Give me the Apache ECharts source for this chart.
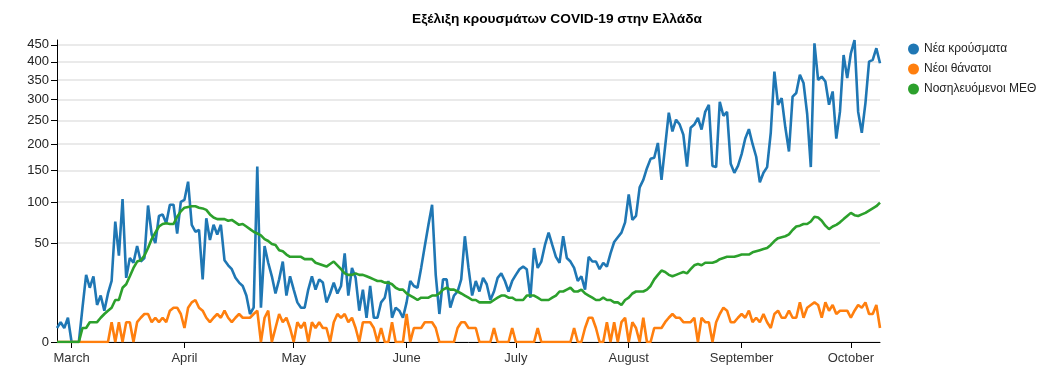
<!DOCTYPE html>
<html><head><meta charset="utf-8">
<script src="https://cdn.jsdelivr.net/npm/echarts@6/dist/echarts.min.js"></script>
<style>html,body{margin:0;padding:0;background:#fff}#c{width:1058px;height:383px}</style>
</head><body><div id="c"></div>
<script>
const startDate = '2020-02-26';
const dayCount = 227;
const monthNames = ['January','February','March','April','May','June','July','August','September','October','November','December'];
const yTicks = [0,50,100,150,200,250,300,350,400,450];
const seriesNames = ['Νέα κρούσματα','Νέοι θάνατοι','Νοσηλευόμενοι ΜΕΘ'];
const titleText = 'Εξέλιξη κρουσμάτων COVID-19 στην Ελλάδα';

const newCases = [
1,2,1,3,0,0,0,6,23,15,
22,7,11,5,12,19,74,38,104,21,
36,32,47,33,36,95,59,50,81,83,
72,96,96,60,100,103,131,70,62,64,
20,78,53,70,59,70,34,30,27,21,
18,16,11,4,6,157,6,47,32,22,
12,20,33,11,22,14,8,6,6,14,
22,14,20,18,8,12,18,12,16,40,
11,28,21,5,14,3,16,3,3,8,
10,19,3,6,5,3,8,19,16,15,
28,47,70,96,23,4,20,20,6,11,
13,20,57,28,11,19,13,21,17,9,
13,21,24,19,13,19,23,27,29,27,
10,45,28,33,48,61,48,37,32,57,
36,33,28,19,22,14,37,33,33,27,
32,29,40,51,56,61,73,111,76,81,
122,134,154,171,173,202,134,195,268,226,
252,241,219,157,234,241,256,230,270,287,
158,156,294,261,270,162,146,158,180,211,
231,200,175,130,146,156,223,373,287,303,
235,185,307,316,364,342,265,156,455,350,
359,346,287,320,211,270,420,355,425,465,
270,223,291,401,406,440,396];

const newDeaths = [
0,0,0,0,0,0,0,0,0,0,
0,0,0,0,0,2,0,2,0,2,
2,0,2,3,4,4,2,3,2,3,
2,5,6,6,4,1,6,8,9,6,
5,3,2,3,4,3,5,3,2,3,
4,3,3,3,4,5,0,3,5,0,
1,4,2,3,1,0,2,1,2,0,
2,1,2,1,1,0,2,4,3,4,
2,3,1,0,2,2,2,1,0,1,
0,0,2,0,0,0,4,0,1,1,
1,2,2,2,1,0,0,0,0,0,
1,2,2,1,1,1,0,0,0,0,
1,0,0,0,0,1,0,0,0,0,
0,0,1,0,0,0,0,0,0,0,
0,0,1,0,0,1,3,3,1,0,
0,2,0,2,0,2,3,0,2,1,
0,3,0,0,1,1,1,2,3,4,
3,3,2,2,2,3,0,3,2,2,
0,2,4,6,5,2,2,3,4,3,
5,2,3,2,4,2,1,4,5,3,
3,5,3,3,8,3,6,7,8,7,
3,8,5,7,4,5,5,5,3,5,
7,6,8,4,4,7,1];

const icu = [
0,0,0,0,0,0,0,1,1,2,
2,2,3,4,5,6,9,9,15,17,
22,28,33,34,38,45,54,61,68,71,
72,71,71,80,87,92,93,94,94,92,
91,89,83,79,77,77,77,75,76,73,
70,71,68,65,62,60,58,54,52,49,
48,43,42,39,37,37,37,37,35,35,
35,32,31,30,29,31,33,30,27,24,
23,23,24,23,23,22,21,20,19,19,
18,18,17,15,14,14,12,11,10,9,
10,10,10,11,11,12,14,15,14,14,
13,12,11,10,9,9,8,8,8,8,
9,10,11,11,10,10,9,9,9,11,
11,11,10,9,9,9,10,11,13,13,
14,15,13,13,14,12,11,10,9,9,
10,9,9,8,8,7,9,10,12,13,
13,13,14,16,20,23,26,25,23,22,
23,24,25,24,27,30,31,30,32,32,
32,33,35,36,37,37,37,38,39,39,
39,41,42,43,44,45,48,52,55,56,
57,59,64,68,69,71,71,74,80,79,
75,69,65,68,70,73,77,81,85,82,
81,83,85,88,91,94,99];

// date categories
const dates = [];
{
  const t0 = Date.parse(startDate + 'T00:00:00Z');
  for (let i = 0; i < dayCount; i++) {
    dates.push(new Date(t0 + i * 86400000).toISOString().slice(0, 10));
  }
}
const isMonthStart = (v) => v.slice(8, 10) === '01';
const sq = (v) => Math.sqrt(v);
const yMax = Math.max.apply(null, newCases);

const colors = ['#1f77b4', '#ff7f0e', '#2ca02c'];
const chart = echarts.init(document.getElementById('c'), null, {renderer: 'canvas'});
const font = 'Liberation Sans, Arial, sans-serif';
chart.setOption({
  animation: false,
  color: colors,
  textStyle: {fontFamily: font},
  title: {
    text: titleText, left: 407, top: 7,
    textStyle: {fontSize: 13.7, fontWeight: 'bold', color: '#000', fontFamily: font}
  },
  legend: {
    orient: 'vertical', left: 903, top: 38, icon: 'circle',
    itemWidth: 11, itemHeight: 11, itemGap: 8,
    textStyle: {fontSize: 12, color: '#222', fontFamily: font},
    data: seriesNames
  },
  grid: {left: 57, right: 178, top: 40, bottom: 41, containLabel: false},
  xAxis: {
    type: 'category', data: dates, boundaryGap: false,
    axisLine: {lineStyle: {color: '#000', width: 1}},
    axisTick: {interval: (i, v) => isMonthStart(v), length: 6, lineStyle: {color: '#000'}},
    axisLabel: {
      interval: (i, v) => isMonthStart(v),
      formatter: (v) => monthNames[parseInt(v.slice(5, 7), 10) - 1],
      fontSize: 13, color: '#333', margin: 10, fontFamily: font
    },
    splitLine: {show: false}
  },
  yAxis: {
    type: 'value', min: 0, max: sq(yMax),
    axisLine: {show: true, lineStyle: {color: '#000', width: 1}},
    axisTick: {show: true, length: 6, customValues: yTicks.map(sq), lineStyle: {color: '#000'}},
    axisLabel: {customValues: yTicks.map(sq), formatter: (v) => String(Math.round(v * v)), fontSize: 13, color: '#222', margin: 8, fontFamily: font},
    splitLine: {show: true, lineStyle: {color: '#e3e3e3', width: 1.5}}
  },
  series: [
    {name: seriesNames[0], type: 'line', data: newCases.map(sq), showSymbol: false, symbol: 'none', lineStyle: {width: 2.6}, z: 3},
    {name: seriesNames[1], type: 'line', data: newDeaths.map(sq), showSymbol: false, symbol: 'none', lineStyle: {width: 2.6}, z: 4},
    {name: seriesNames[2], type: 'line', data: icu.map(sq), showSymbol: false, symbol: 'none', lineStyle: {width: 2.6}, z: 5}
  ]
});
</script></body></html>
